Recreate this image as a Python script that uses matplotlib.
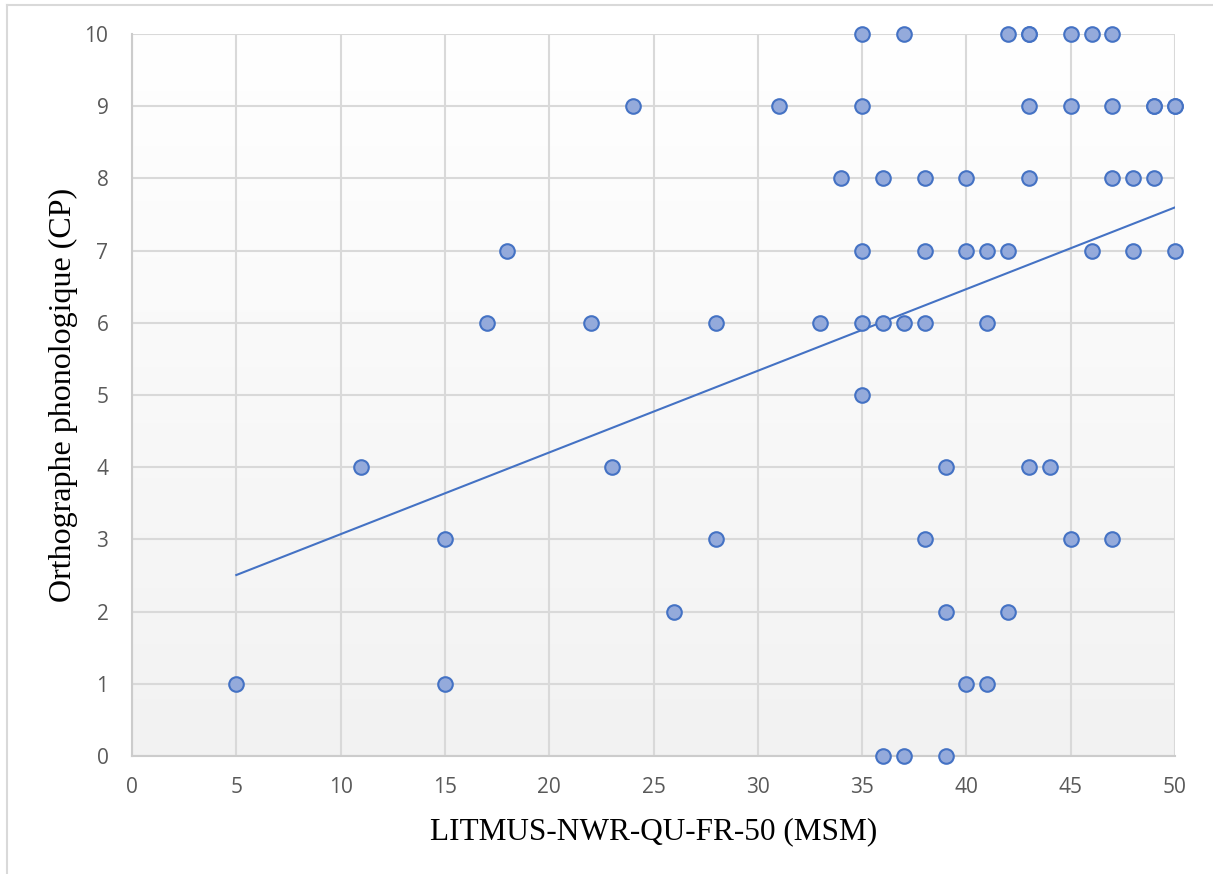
import numpy as np
import matplotlib
matplotlib.use("Agg")
import matplotlib.pyplot as plt
from matplotlib.lines import Line2D

# Data (last three pairs: overlapping, hidden duplicates)
x_msm = [35, 37, 42, 43, 45, 46, 47,
         24, 31, 35, 43, 45, 47, 49, 50,
         34, 36, 38, 40, 43, 47, 48, 49,
         18, 35, 38, 40, 41, 42, 46, 48, 50,
         17, 22, 28, 33, 35, 36, 37, 38, 41,
         35,
         11, 23, 39, 43, 44,
         15, 28, 38, 45, 47,
         26, 39, 42,
         5, 15, 40, 41,
         36, 37, 39,
         49, 50, 43]
y_cp = [10, 10, 10, 10, 10, 10, 10,
        9, 9, 9, 9, 9, 9, 9, 9,
        8, 8, 8, 8, 8, 8, 8, 8,
        7, 7, 7, 7, 7, 7, 7, 7, 7,
        6, 6, 6, 6, 6, 6, 6, 6, 6,
        5,
        4, 4, 4, 4, 4,
        3, 3, 3, 3, 3,
        2, 2, 2,
        1, 1, 1, 1,
        0, 0, 0,
        9, 9, 10]
x_ticks = [0, 5, 10, 15, 20, 25, 30, 35, 40, 45, 50]
y_ticks = [0, 1, 2, 3, 4, 5, 6, 7, 8, 9, 10]
x_label = "LITMUS-NWR-QU-FR-50 (MSM)"
y_label = "Orthographe phonologique (CP)"

fig = plt.figure(figsize=(12.13, 8.74), dpi=100)
ax = fig.add_axes([132/1213, 1-756/874, (1175-132)/1213, (756-34)/874])

# gradient background
grad = np.linspace(1.0, 0.949, 256).reshape(-1, 1)
ax.imshow(np.dstack([grad, grad, grad]), extent=[0, 50, 0, 10], aspect='auto',
          origin='upper', zorder=0, interpolation='bicubic')

ax.set_xlim(0, 50)
ax.set_ylim(0, 10)
ax.set_xticks(x_ticks)
ax.set_yticks(y_ticks)
ax.set_axisbelow(True)
ax.grid(True, color='#D9D9D9', linewidth=1.5)
for s in ['top', 'right']:
    ax.spines[s].set_visible(False)
for s in ['left', 'bottom']:
    ax.spines[s].set_color('#CCCCCC')
    ax.spines[s].set_linewidth(1.5)
ax.tick_params(length=0, labelsize=15, labelcolor='#595959')
ax.tick_params(axis='x', pad=15)
ax.tick_params(axis='y', pad=17)
for lab in ax.get_xticklabels() + ax.get_yticklabels():
    lab.set_fontfamily('Open Sans')

# trend line
xa = np.array(x_msm, dtype=float)
ya = np.array(y_cp, dtype=float)
m, b = np.polyfit(xa, ya, 1)
xt = np.array([xa.min(), xa.max()])
ax.plot(xt, m*xt + b, color='#4472C4', linewidth=1.5, zorder=2)

ax.scatter(xa, ya, s=110, facecolor='#94AADB', edgecolor='#4472C4',
           linewidth=1.5, zorder=3, clip_on=False)

ax.set_xlabel(x_label, fontfamily='Liberation Serif', fontsize=22.5, color='black', labelpad=14)
ax.set_ylabel(y_label, fontfamily='Liberation Serif', fontsize=23, color='black', labelpad=5)

# figure border (top and left)
fig.add_artist(Line2D([7/1213, 1], [1-5/874, 1-5/874], color='#D9D9D9', linewidth=1.5))
fig.add_artist(Line2D([7/1213, 7/1213], [0, 1-5/874], color='#D9D9D9', linewidth=1.5))

fig.savefig('out.png', dpi=100)
